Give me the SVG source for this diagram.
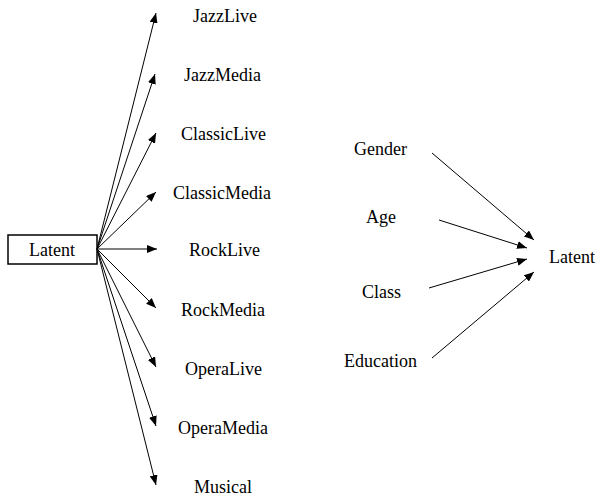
<svg xmlns="http://www.w3.org/2000/svg" width="597" height="498" viewBox="0 0 597 498">
<defs>
<marker id="ah" viewBox="0 0 10 8" markerWidth="10" markerHeight="8" refX="10" refY="4" orient="auto" markerUnits="userSpaceOnUse">
<path d="M0,0 L10,4 L0,8 z" fill="#000"/>
</marker>
</defs>
<rect width="597" height="498" fill="#fff"/>
<g id="latent-left"><rect x="8" y="235" width="89" height="29" fill="#fff" stroke="#000" stroke-width="1.5"/><text x="29" y="256" font-family="Liberation Serif" font-size="18">Latent</text></g>
<g id="jazzlive"><text x="193" y="22" font-family="Liberation Serif" font-size="18">JazzLive</text></g>
<g id="jazzmedia"><text x="184" y="81" font-family="Liberation Serif" font-size="18">JazzMedia</text></g>
<g id="classiclive"><text x="181" y="140" font-family="Liberation Serif" font-size="18">ClassicLive</text></g>
<g id="classicmedia"><text x="173" y="199" font-family="Liberation Serif" font-size="18">ClassicMedia</text></g>
<g id="rocklive"><text x="189" y="256" font-family="Liberation Serif" font-size="18">RockLive</text></g>
<g id="rockmedia"><text x="181" y="316" font-family="Liberation Serif" font-size="18">RockMedia</text></g>
<g id="operalive"><text x="185" y="375" font-family="Liberation Serif" font-size="18">OperaLive</text></g>
<g id="operamedia"><text x="178" y="434" font-family="Liberation Serif" font-size="18">OperaMedia</text></g>
<g id="musical"><text x="194" y="493" font-family="Liberation Serif" font-size="18">Musical</text></g>
<g id="gender"><text x="354" y="155" font-family="Liberation Serif" font-size="18">Gender</text></g>
<g id="age"><text x="366" y="223" font-family="Liberation Serif" font-size="18">Age</text></g>
<g id="class"><text x="362" y="298" font-family="Liberation Serif" font-size="18">Class</text></g>
<g id="education"><text x="344" y="367" font-family="Liberation Serif" font-size="18">Education</text></g>
<g id="latent-right"><text x="549" y="263" font-family="Liberation Serif" font-size="18">Latent</text></g>
<g id="connectors" stroke="#000" stroke-width="1" marker-end="url(#ah)">
<line x1="97" y1="249" x2="156" y2="13"/>
<line x1="97" y1="249" x2="155" y2="74"/>
<line x1="97" y1="249" x2="156" y2="133"/>
<line x1="97" y1="249" x2="156" y2="192"/>
<line x1="97" y1="249" x2="157" y2="249"/>
<line x1="97" y1="249" x2="156" y2="308"/>
<line x1="97" y1="249" x2="156" y2="367"/>
<line x1="97" y1="249" x2="156" y2="426"/>
<line x1="97" y1="249" x2="156" y2="485"/>
<line x1="432" y1="153" x2="534" y2="240"/>
<line x1="439" y1="220" x2="527" y2="248"/>
<line x1="429" y1="288" x2="527" y2="259"/>
<line x1="432" y1="358" x2="534" y2="272"/>
</g>
</svg>
